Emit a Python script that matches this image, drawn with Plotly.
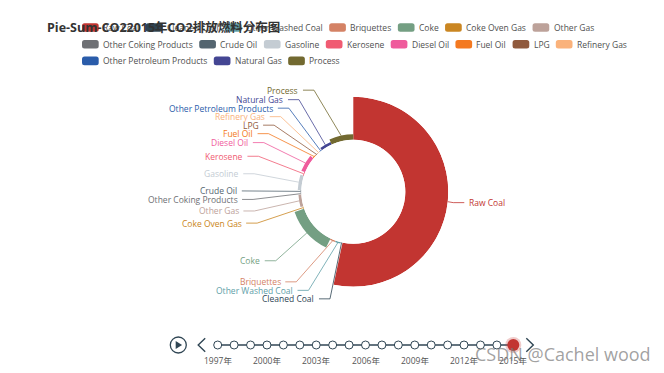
import math
import plotly.graph_objects as go

# ---------------- data ----------------
fuel_names = ["Raw Coal", "Cleaned Coal", "Other Washed Coal", "Briquettes", "Coke", "Coke Oven Gas",
              "Other Gas", "Other Coking Products", "Crude Oil", "Gasoline", "Kerosene", "Diesel Oil",
              "Fuel Oil", "LPG", "Refinery Gas", "Other Petroleum Products", "Natural Gas", "Process"]
co2_2015 = [4990, 52, 156, 156, 1170, 78, 338, 52, 78, 416, 104, 468, 104, 78, 78, 78, 325, 637]
fuel_colors = ["#c23531", "#2f4554", "#61a0a8", "#d48265", "#749f83", "#ca8622", "#bda29a", "#6e7074",
               "#546570", "#c4ccd3", "#f05b72", "#ef5b9c", "#f47920", "#905a3d", "#fab27b", "#2a5caa",
               "#444693", "#726930"]
years = list(range(1997, 2016))
year_labels = [f"{y}年" for y in years]
current_year = 2015
title_text = f"Pie-Sum-CO2{current_year}年CO2排放燃料分布图"
watermark = "CSDN @Cachel wood"

# ---------------- layout constants (window pixel frame) ----------------
W, H = 664, 373
OFF = 8  # page body margin: figure sits 8px in from the window corner
FW, FH = W - 2 * OFF, H - 2 * OFF
CX, CY = 353.3, 191.8
R_OUT, R_IN = 95.0, 52.0
LEN1, LEN2, LDIST = 9.0, 11.0, 3.5
LABEL_H = 8.5
FS = 8.5
FONT = "Open Sans, Noto Sans CJK SC, sans-serif"
AXIS_COLOR = "#304654"

# approximate Open Sans advance widths (per 1000 em) for legend layout
CW = {' ': 260, 'a': 556, 'b': 613, 'c': 476, 'd': 613, 'e': 561, 'f': 339, 'g': 548, 'h': 614,
      'i': 253, 'j': 253, 'k': 525, 'l': 253, 'm': 930, 'n': 614, 'o': 604, 'p': 613, 'q': 613,
      'r': 408, 's': 477, 't': 353, 'u': 614, 'v': 501, 'w': 778, 'x': 524, 'y': 502, 'z': 477,
      'A': 633, 'B': 648, 'C': 631, 'D': 729, 'E': 556, 'F': 516, 'G': 728, 'H': 738, 'I': 279,
      'J': 267, 'K': 616, 'L': 519, 'M': 903, 'N': 754, 'O': 779, 'P': 602, 'Q': 779, 'R': 618,
      'S': 549, 'T': 553, 'U': 729, 'V': 595, 'W': 926, 'X': 577, 'Y': 560, 'Z': 571}


def text_width(s, size):
    return sum(CW.get(ch, 572) for ch in s) / 1000.0 * size


total = sum(co2_2015)
vmax = max(co2_2015)
spans, mids = [], []
acc = 0.0
for v in co2_2015:
    sp = v / total * 360.0
    spans.append(sp)
    mids.append(acc + sp / 2)
    acc += sp

fig = go.Figure()

# rose-type donut
fig.add_trace(go.Barpolar(
    r=co2_2015, theta=mids, width=spans,
    marker=dict(color=fuel_colors, line=dict(width=0)),
    text=fuel_names, hoverinfo="text+r", showlegend=False))

# ---------------- label layout (echarts-like) ----------------
items = []
for i, v in enumerate(co2_2015):
    a = math.radians(mids[i])
    dx, dy = math.sin(a), -math.cos(a)
    ri = R_IN + (R_OUT - R_IN) * v / vmax
    side = -1 if dx < 0 else 1
    x1 = CX + (R_OUT + LEN1) * dx
    y1 = CY + (R_OUT + LEN1) * dy
    tx = x1 + side * LEN2 + side * LDIST
    items.append(dict(i=i, side=side, x=tx, y=y1, p0=(CX + ri * dx, CY + ri * dy)))


def adjust_side(lst, side):
    lst.sort(key=lambda d: d['y'])
    n = len(lst)

    def shift_up(end, delta):
        for j in range(end, -1, -1):
            lst[j]['y'] -= delta
            if j > 0 and lst[j]['y'] > lst[j - 1]['y'] + LABEL_H:
                break

    def shift_down(start, end, delta):
        for j in range(start, end):
            lst[j]['y'] += delta
            if j > start and j + 1 < end and lst[j + 1]['y'] > lst[j]['y'] + LABEL_H:
                shift_up(j, delta / 2)
                return
        shift_up(end - 1, delta / 2)

    last_y = 0
    for i in range(n):
        delta = lst[i]['y'] - last_y
        if delta < 0:
            shift_down(i, n, -delta)
        last_y = lst[i]['y'] + LABEL_H

    def change_x(sub, is_down):
        last = float('inf') if is_down else 0.0
        for it in sub:
            ddy = abs(it['y'] - CY)
            if ddy < R_OUT + LEN1:
                ddx = math.sqrt((R_OUT + LEN1 + LEN2) ** 2 - ddy ** 2)
            else:
                ddx = abs(it['x'] - CX)
            if is_down and ddx >= last:
                ddx = last - 6.7
            if (not is_down) and ddx <= last:
                ddx = last + 6.7
            it['x'] = CX + ddx * side
            last = ddx

    change_x([d for d in lst if d['y'] < CY], False)
    change_x([d for d in lst if d['y'] >= CY], True)


left = [d for d in items if d['side'] < 0]
right = [d for d in items if d['side'] > 0]
adjust_side(left, -1)
adjust_side(right, 1)

annotations = []
shapes = []
for it in items:
    i, s = it['i'], it['side']
    p2x = it['x'] - s * LDIST
    p1x = p2x - s * LEN2
    fig.add_trace(go.Scatter(
        x=[it['p0'][0], p1x, p2x], y=[it['p0'][1], it['y'], it['y']],
        mode="lines", line=dict(color=fuel_colors[i], width=0.8),
        hoverinfo="skip", showlegend=False, xaxis="x", yaxis="y"))
    annotations.append(dict(
        x=it['x'], y=it['y'], xref="x", yref="y", text=fuel_names[i], showarrow=False,
        xanchor="right" if s < 0 else "left", yanchor="middle", borderpad=0,
        font=dict(family=FONT, size=FS, color=fuel_colors[i])))

# ---------------- legend (echarts-style) ----------------
LEG_X0, LEG_XMAX, LEG_Y0, ROW_PITCH = 82.0, 645.0, 27.5, 16.7
ICON_W, ICON_H, ICON_GAP, ITEM_GAP, RR = 16.7, 8.6, 3.3, 7.5, 2.5
lx, row = LEG_X0, 0
for i, name in enumerate(fuel_names):
    tw = text_width(name, FS)
    iw = ICON_W + ICON_GAP + tw
    if lx + iw > LEG_XMAX and lx > LEG_X0:
        row += 1
        lx = LEG_X0
    ly = LEG_Y0 + row * ROW_PITCH
    x0, x1 = lx, lx + ICON_W
    y0, y1 = ly - ICON_H / 2, ly + ICON_H / 2
    path = (f"M{x0+RR},{y0} L{x1-RR},{y0} Q{x1},{y0} {x1},{y0+RR} L{x1},{y1-RR} Q{x1},{y1} {x1-RR},{y1} "
            f"L{x0+RR},{y1} Q{x0},{y1} {x0},{y1-RR} L{x0},{y0+RR} Q{x0},{y0} {x0+RR},{y0} Z")
    shapes.append(dict(type="path", path=path, xref="x", yref="y", fillcolor=fuel_colors[i],
                       line=dict(width=0), layer="above"))
    annotations.append(dict(x=lx + ICON_W + ICON_GAP, y=ly, xref="x", yref="y", text=name,
                            showarrow=False, xanchor="left", yanchor="middle", borderpad=0,
                            font=dict(family=FONT, size=FS, color="#505050")))
    lx += iw + ITEM_GAP

# ---------------- timeline ----------------
TL_X0, TL_X1, TL_Y = 217.7, 513.3, 345.0
n = len(years)
txs = [TL_X0 + k * (TL_X1 - TL_X0) / (n - 1) for k in range(n)]
sel = years.index(current_year)
fig.add_trace(go.Scatter(x=[txs[0], txs[-1]], y=[TL_Y, TL_Y], mode="lines",
                         line=dict(color=AXIS_COLOR, width=1.3), hoverinfo="skip", showlegend=False))
fig.add_trace(go.Scatter(x=[x for k, x in enumerate(txs) if k != sel], y=[TL_Y] * (n - 1), mode="markers",
                         marker=dict(size=8, color="white", line=dict(color=AXIS_COLOR, width=1)),
                         hoverinfo="skip", showlegend=False))
fig.add_trace(go.Scatter(x=[txs[sel]], y=[TL_Y], mode="markers",
                         marker=dict(size=16, color="rgba(194,53,49,0.25)", line=dict(width=0)),
                         hoverinfo="skip", showlegend=False))
fig.add_trace(go.Scatter(x=[txs[sel]], y=[TL_Y], mode="markers",
                         marker=dict(size=12, color="#c23531", line=dict(width=0)),
                         hoverinfo="skip", showlegend=False))
for k in range(0, n, 3):
    annotations.append(dict(x=txs[k], y=360.5, xref="x", yref="y", text=year_labels[k], showarrow=False,
                            xanchor="center", yanchor="middle", borderpad=0,
                            font=dict(family=FONT, size=FS, color="#555")))

# play button & arrows
PBX, PBY, PBR = 178.3, 345.0, 8.0
shapes.append(dict(type="circle", xref="x", yref="y", x0=PBX - PBR, x1=PBX + PBR, y0=PBY - PBR, y1=PBY + PBR,
                   line=dict(color=AXIS_COLOR, width=1.3), fillcolor="rgba(0,0,0,0)"))
shapes.append(dict(type="path", xref="x", yref="y",
                   path=f"M{PBX-2.6},{PBY-4} L{PBX-2.6},{PBY+4} L{PBX+3.8},{PBY} Z",
                   fillcolor=AXIS_COLOR, line=dict(width=0)))
shapes.append(dict(type="path", xref="x", yref="y",
                   path=f"M{TL_X0-12.5},{TL_Y-6.8} L{TL_X0-19.5},{TL_Y} L{TL_X0-12.5},{TL_Y+6.8}",
                   line=dict(color=AXIS_COLOR, width=1.4)))
shapes.append(dict(type="path", xref="x", yref="y",
                   path=f"M{TL_X1+13},{TL_Y-6.8} L{TL_X1+20},{TL_Y} L{TL_X1+13},{TL_Y+6.8}",
                   line=dict(color=AXIS_COLOR, width=1.4)))

# watermark & title
annotations.append(dict(x=474, y=354, xref="x", yref="y", text=watermark, showarrow=False,
                        xanchor="left", yanchor="middle", borderpad=0,
                        font=dict(family=FONT, size=18, color="rgba(120,120,120,0.7)")))
annotations.append(dict(x=46, y=27.5, xref="x", yref="y", text=f"<b>{title_text}</b>", showarrow=False,
                        xanchor="left", yanchor="middle", borderpad=0,
                        font=dict(family=FONT, size=12.5, color="#333")))

fig.update_layout(
    width=FW, height=FH, margin=dict(l=0, r=0, t=0, b=0, pad=0),
    paper_bgcolor="white", plot_bgcolor="rgba(0,0,0,0)",
    xaxis=dict(range=[OFF, W - OFF], visible=False, fixedrange=True),
    yaxis=dict(range=[H - OFF, OFF], visible=False, fixedrange=True),
    polar=dict(
        domain=dict(x=[(CX - R_OUT - OFF) / FW, (CX + R_OUT - OFF) / FW],
                    y=[1 - (CY + R_OUT - OFF) / FH, 1 - (CY - R_OUT - OFF) / FH]),
        hole=R_IN / R_OUT, bargap=0, bgcolor="rgba(0,0,0,0)",
        radialaxis=dict(visible=False, range=[0, vmax]),
        angularaxis=dict(visible=False, rotation=90, direction="clockwise")),
    annotations=annotations, shapes=shapes, showlegend=False,
)

fig.write_html("out.html", config={"displayModeBar": False})
